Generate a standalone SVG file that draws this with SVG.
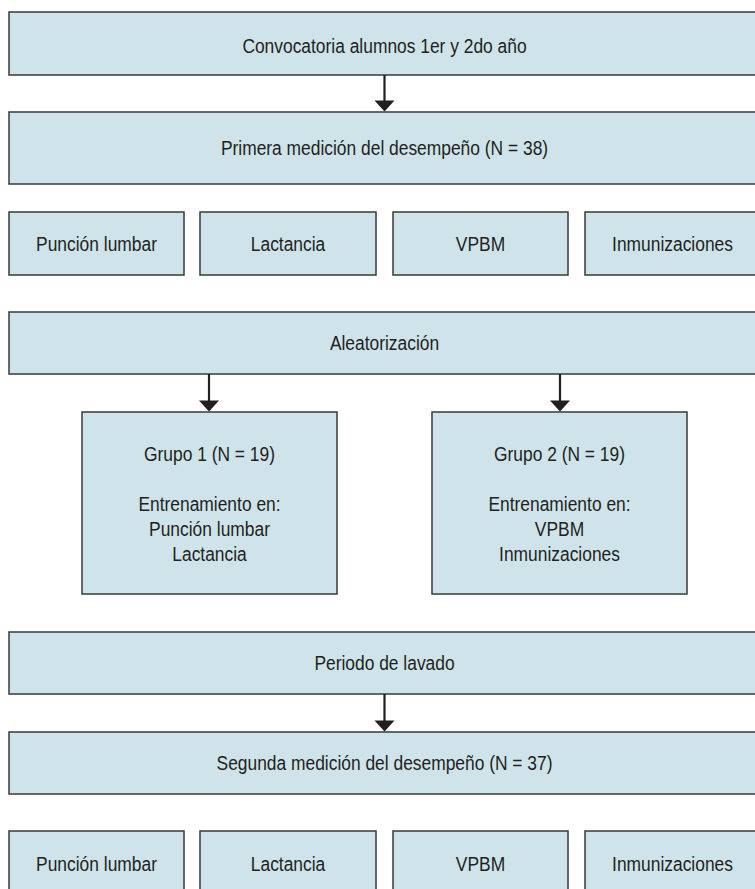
<svg xmlns="http://www.w3.org/2000/svg" width="755" height="889" viewBox="0 0 755 889">
<style>
.box{fill:#cfe4ea;stroke:#3a3a3a;stroke-width:1.5}
.t{font-family:"Liberation Sans",Arial,sans-serif;font-size:20px;fill:#231f20;text-anchor:middle}
.c{stroke:#231f20;stroke-width:2.2;fill:none}
</style>
<defs>
<marker id="ah" markerUnits="userSpaceOnUse" markerWidth="20" markerHeight="11" refX="10" refY="11" orient="auto-start-reverse" viewBox="0 0 20 11">
<path d="M0,0 L20,0 L10,11 Z" fill="#231f20" transform="rotate(0)"/>
</marker>
</defs>
<rect width="755" height="889" fill="#fff"/>
<g id="n1"><rect class="box" x="9" y="12" width="751" height="63"/><text class="t" transform="translate(384.5,53) scale(0.87,1)">Convocatoria alumnos 1er y 2do año</text></g>
<g id="n2"><rect class="box" x="9" y="112" width="751" height="72"/><text class="t" transform="translate(384.5,155) scale(0.87,1)">Primera medición del desempeño (N = 38)</text></g>
<g id="r1a"><rect class="box" x="9" y="212" width="175" height="63"/><text class="t" transform="translate(96.5,251) scale(0.87,1)">Punción lumbar</text></g>
<g id="r1b"><rect class="box" x="200" y="212" width="176" height="63"/><text class="t" transform="translate(288,251) scale(0.87,1)">Lactancia</text></g>
<g id="r1c"><rect class="box" x="393" y="212" width="175" height="63"/><text class="t" transform="translate(480.5,251) scale(0.87,1)">VPBM</text></g>
<g id="r1d"><rect class="box" x="585" y="212" width="175" height="63"/><text class="t" transform="translate(672.5,251) scale(0.87,1)">Inmunizaciones</text></g>
<g id="n3"><rect class="box" x="9" y="312" width="751" height="62"/><text class="t" transform="translate(384.5,350) scale(0.87,1)">Aleatorización</text></g>
<g id="g1"><rect class="box" x="82" y="412" width="255" height="182"/>
<text class="t" transform="translate(209.5,461) scale(0.87,1)">Grupo 1 (N = 19)</text>
<text class="t" transform="translate(209.5,511) scale(0.87,1)">Entrenamiento en:</text>
<text class="t" transform="translate(209.5,536) scale(0.87,1)">Punción lumbar</text>
<text class="t" transform="translate(209.5,561) scale(0.87,1)">Lactancia</text></g>
<g id="g2"><rect class="box" x="432" y="412" width="255" height="182"/>
<text class="t" transform="translate(559.5,461) scale(0.87,1)">Grupo 2 (N = 19)</text>
<text class="t" transform="translate(559.5,511) scale(0.87,1)">Entrenamiento en:</text>
<text class="t" transform="translate(559.5,536) scale(0.87,1)">VPBM</text>
<text class="t" transform="translate(559.5,561) scale(0.87,1)">Inmunizaciones</text></g>
<g id="n4"><rect class="box" x="9" y="632" width="751" height="62"/><text class="t" transform="translate(384.5,670) scale(0.87,1)">Periodo de lavado</text></g>
<g id="n5"><rect class="box" x="9" y="732" width="751" height="62"/><text class="t" transform="translate(384.5,770) scale(0.87,1)">Segunda medición del desempeño (N = 37)</text></g>
<g id="r2a"><rect class="box" x="9" y="831" width="175" height="64"/><text class="t" transform="translate(96.5,871) scale(0.87,1)">Punción lumbar</text></g>
<g id="r2b"><rect class="box" x="200" y="831" width="176" height="64"/><text class="t" transform="translate(288,871) scale(0.87,1)">Lactancia</text></g>
<g id="r2c"><rect class="box" x="393" y="831" width="175" height="64"/><text class="t" transform="translate(480.5,871) scale(0.87,1)">VPBM</text></g>
<g id="r2d"><rect class="box" x="585" y="831" width="175" height="64"/><text class="t" transform="translate(672.5,871) scale(0.87,1)">Inmunizaciones</text></g>
<g id="connectors">
<path class="c" d="M384.5,75 V101"/><path d="M374.5,100.5 H394.5 L384.5,111.5 Z" fill="#231f20"/>
<path class="c" d="M209,374 V401"/><path d="M199,400.5 H219 L209,411.5 Z" fill="#231f20"/>
<path class="c" d="M560,374 V401"/><path d="M550,400.5 H570 L560,411.5 Z" fill="#231f20"/>
<path class="c" d="M384.5,694 V721"/><path d="M374.5,720.5 H394.5 L384.5,731.5 Z" fill="#231f20"/>
</g>
</svg>
